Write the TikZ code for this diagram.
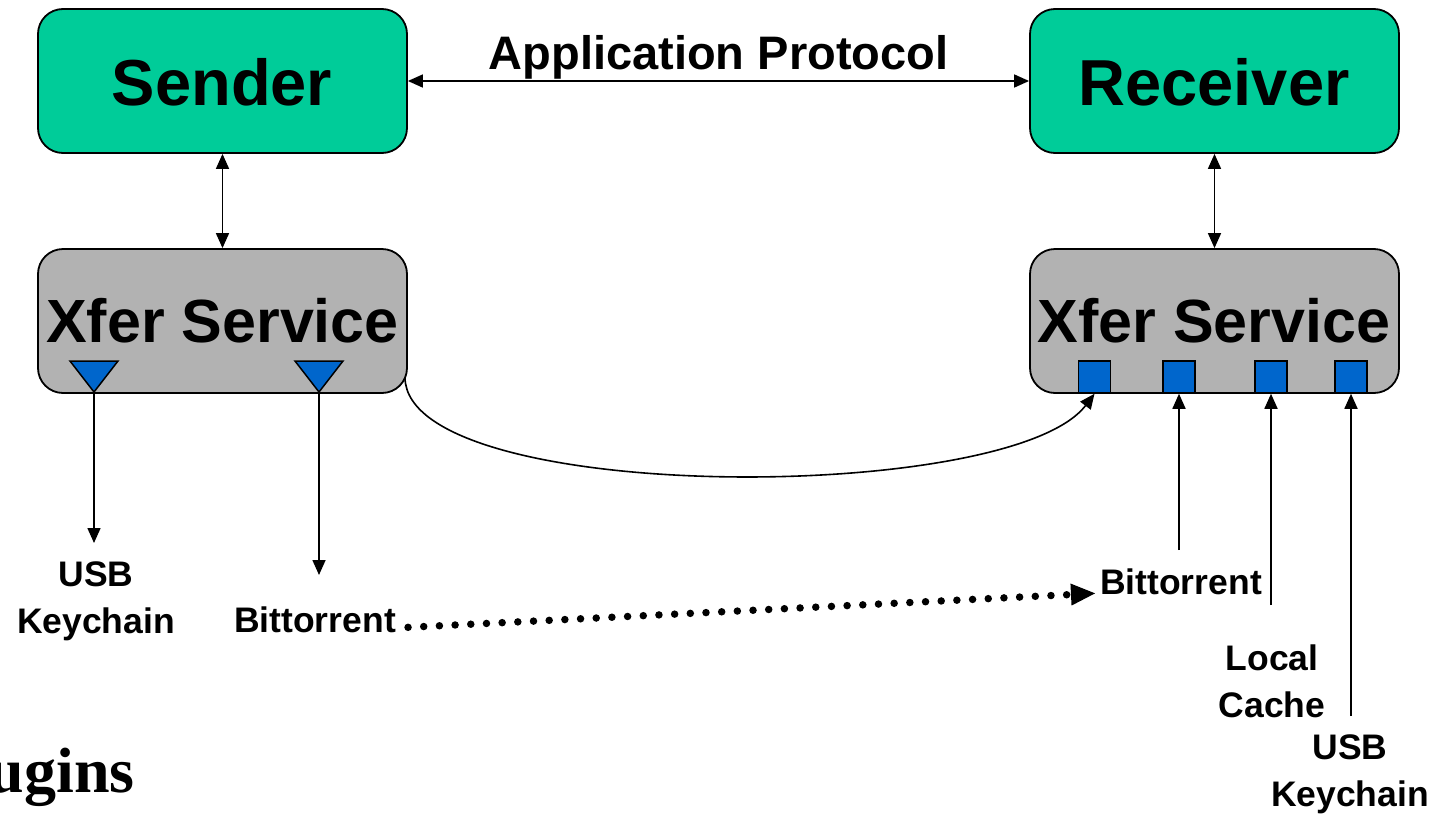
\documentclass[tikz,border=0pt]{standalone}
\usepackage{fontspec}
\setmainfont{Liberation Sans}
\newfontfamily\titleserif{Liberation Serif}
\usetikzlibrary{arrows.meta}

\definecolor{boxgreen}{HTML}{00CC99}
\definecolor{boxgray}{HTML}{B2B2B2}
\definecolor{portblue}{HTML}{0066CC}

\tikzset{
  comp/.style={draw=black, line width=1.8pt, rounded corners=25pt,
    minimum width=369pt, minimum height=144pt, inner sep=0pt},
  appbox/.style={comp, fill=boxgreen},
  svcbox/.style={comp, fill=boxgray},
  bigtext/.style={font=\bfseries\fontsize{65}{78}\selectfont, inner sep=0pt},
  svctext/.style={font=\bfseries\fontsize{61}{72}\selectfont, inner sep=0pt},
  lbl/.style={font=\bfseries\fontsize{35.5}{47}\selectfont, align=center, inner sep=0pt},
  port/.style={draw=black, line width=1.5pt, fill=portblue, minimum width=32pt,
    minimum height=32pt, inner sep=0pt},
  plug/.style={draw=black, line width=1.5pt, fill=portblue},
  tipA/.tip={Triangle[length=15pt,width=13pt]},
  arr/.style={line width=1.6pt, -tipA},
  biarr/.style={line width=1.6pt, tipA-tipA},
  dotarr/.style={line width=7.5pt, line cap=round, dash pattern=on 0pt off 15.7pt,
    -{Triangle[length=25pt,width=20pt]}}
}

\begin{document}
\begin{tikzpicture}[x=1pt, y=-1pt]
  \useasboundingbox (0,0) rectangle (1438,814);

  % application layer
  \node[appbox] (snd) at (222.5,81) {};
  \node[appbox] (rcv) at (1214.5,81) {};
  \node[bigtext, anchor=base] (sndT) at (222,105) {Sender};
  \node[bigtext, anchor=base] (rcvT) at (1214,105) {Receiver};

  % transfer services
  \node[svcbox] (xs) at (222.5,321) {};
  \node[svcbox] (xr) at (1214.5,321) {};
  \node[svctext, anchor=base] (xsT) at (222.5,342) {Xfer Service};
  \node[svctext, anchor=base] (xrT) at (1214,342) {Xfer Service};

  % application protocol
  \draw[biarr] (snd.east) -- (rcv.west)
    node[midway, anchor=base, yshift=12pt, font=\bfseries\fontsize{47}{56}\selectfont, inner sep=0pt] (ap) {Application Protocol};
  \draw[biarr] (snd.south) -- (xs.north);
  \draw[biarr] (rcv.south) -- (xr.north);

  % sender-side plugins (triangles)
  \draw[plug] (70,361) -- (118,361) -- (94,392) -- cycle;
  \draw[plug] (295,361) -- (343,361) -- (319,392) -- cycle;
  \coordinate (p1) at (94,392);
  \coordinate (p2) at (319,392);

  % receiver-side plugins (squares)
  \node[port] (q1) at (1094.5,377) {};
  \node[port] (q2) at (1179,377) {};
  \node[port] (q3) at (1271,377) {};
  \node[port] (q4) at (1351,377) {};

  % labels
  \node[lbl] (usbL) at (96,601) {USB\\Keychain};
  \node[lbl, anchor=base] (btL) at (315,632) {Bittorrent};
  \node[lbl, anchor=base] (btR) at (1181,594) {Bittorrent};
  \node[lbl] (cache) at (1272,681) {Local\\Cache};
  \node[lbl] (usbR) at (1350,774) {USB\\Keychain};

  \coordinate (e1) at (94,543);
  \coordinate (e2) at (319,575);
  \coordinate (b2) at (1179,550);
  \coordinate (b3) at (1271,605);
  \coordinate (b4) at (1351,716);
  \coordinate (cs) at (405,378);

  \draw[arr] (p1) -- (e1);
  \draw[arr] (p2) -- (e2);
  \draw[arr] (b2) -- (q2.south);
  \draw[arr] (b3) -- (q3.south);
  \draw[arr] (b4) -- (q4.south);

  % direct transfer between services
  \draw[arr] (cs) .. controls (408,505) and (1010,505) .. (q1.south);

  % bittorrent peer link
  \draw[dotarr] ([xshift=12pt, yshift=-8pt]btL.east) -- ([xshift=-4pt, yshift=-12pt]btR.west);

  % slide title fragment
  \node[font=\titleserif\bfseries\fontsize{64}{72}\selectfont, anchor=base east, inner sep=0pt] (title) at (135,792) {Plugins};
\end{tikzpicture}
\end{document}
